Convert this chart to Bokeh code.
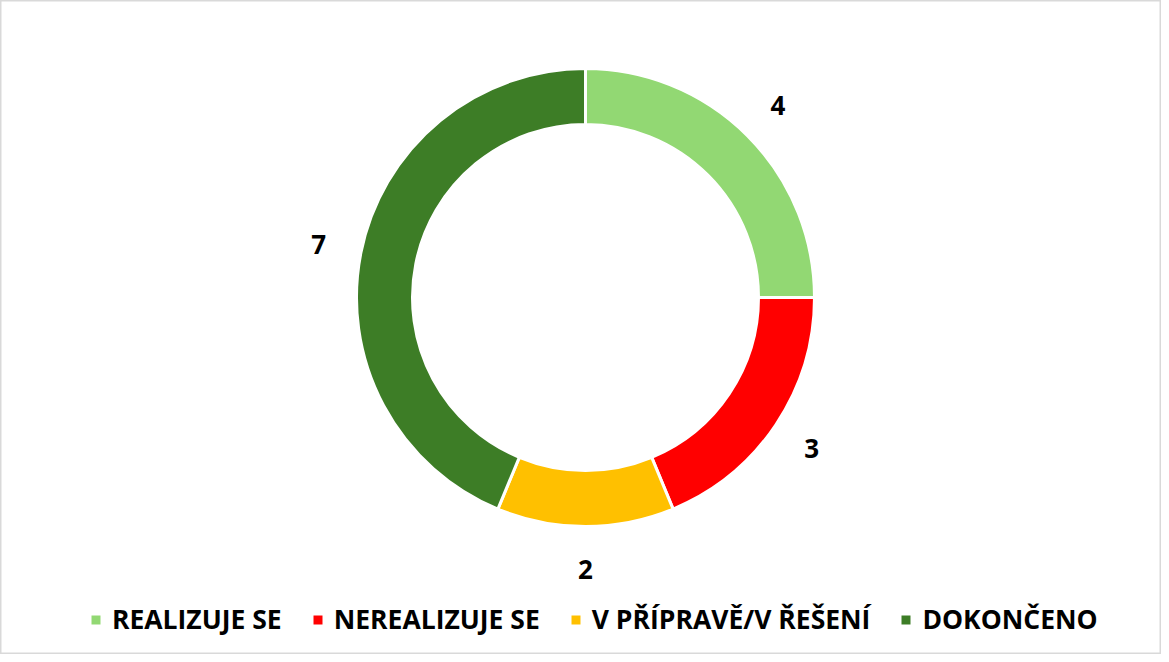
import math
from bokeh.plotting import figure
from bokeh.models import ColumnDataSource, Legend, LegendItem
from bokeh.core.properties import value
from bokeh.embed import file_html
from bokeh.resources import INLINE

categories = ["REALIZUJE SE", "NEREALIZUJE SE", "V PŘÍPRAVĚ/V ŘEŠENÍ", "DOKONČENO"]
counts = [4, 3, 2, 7]
colors = ["#92D873", "#FF0000", "#FFC000", "#3D7D26"]

W, H = 1161, 654
cx_px, cy_px = 585, 297  # centre of donut within the figure (pixels from top-left)

total = sum(counts)
starts, ends, mids = [], [], []
acc = 0.0
for c in counts:
    a0 = math.pi / 2 - 2 * math.pi * acc / total
    acc += c
    a1 = math.pi / 2 - 2 * math.pi * acc / total
    starts.append(a0)
    ends.append(a1)
    mids.append((a0 + a1) / 2)

label_r = 272
src = ColumnDataSource(dict(
    cat=categories, n=counts, color=colors, start=starts, end=ends,
    lx=[label_r * math.cos(m) for m in mids],
    ly=[label_r * math.sin(m) for m in mids],
    txt=[str(v) for v in counts],
))

p = figure(width=W, height=H, output_backend="svg", toolbar_location=None,
           x_range=(-cx_px, W - cx_px), y_range=(-(H - cy_px), cy_px),
           min_border=0, match_aspect=False)
p.axis.visible = False
p.grid.visible = False
p.outline_line_color = "#d9d9d9"
p.outline_line_width = 2
p.background_fill_color = "white"
p.border_fill_color = "white"

r = p.annular_wedge(x=0, y=0, inner_radius=173, outer_radius=229,
                    start_angle="start", end_angle="end", direction="clock",
                    fill_color="color", line_color="white", line_width=3,
                    source=src)

p.text(x="lx", y="ly", text="txt", source=src, text_align="center",
       text_baseline="middle", text_font=value("Open Sans"),
       text_font_style="bold", text_font_size="26px", text_color="black")

items = [LegendItem(label=categories[i], renderers=[r], index=i) for i in range(len(categories))]
legend = Legend(items=items, orientation="horizontal", location=(88, 17),
                glyph_width=15, glyph_height=15, label_standoff=9, spacing=28,
                padding=0, margin=0, border_line_color=None,
                background_fill_alpha=0,
                label_text_font="Open Sans", label_text_font_style="bold",
                label_text_font_size="26.5px", label_text_color="black")
p.add_layout(legend)

open("out.html", "w").write(file_html(p, INLINE))
